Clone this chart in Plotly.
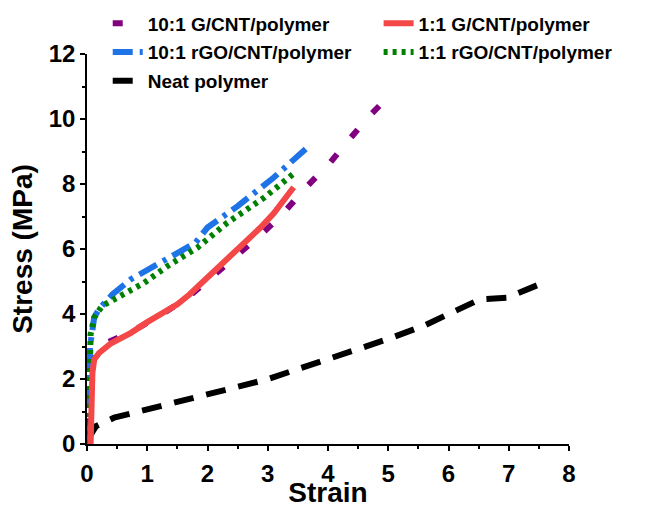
import plotly.graph_objects as go

# 10:1 G/CNT/polymer (listed from the high-strain end)
g10_x = [4.85, 4.67, 4.34, 4.01, 3.63, 3.21, 2.83, 2.44, 2.08, 1.67, 1.20, 0.73, 0.31, 0.10, 0.05, 0.03, 0.02]
g10_y = [10.40, 10.06, 9.34, 8.60, 7.89, 7.00, 6.35, 5.73, 5.12, 4.50, 3.94, 3.45, 3.10, 2.85, 2.5, 1.2, 0.0]
# 1:1 G/CNT/polymer
g1_x = [0.06, 0.07, 0.09, 0.12, 0.20, 0.40, 0.73, 1.00, 1.50, 1.70, 2.00, 2.44, 2.88, 3.10, 3.43]
g1_y = [0.0, 1.0, 2.2, 2.6, 2.80, 3.10, 3.42, 3.75, 4.30, 4.60, 5.12, 5.94, 6.66, 7.10, 7.90]
# 10:1 rGO/CNT/polymer
r10_x = [0.02, 0.03, 0.05, 0.09, 0.12, 0.20, 0.42, 0.73, 1.28, 1.80, 2.00, 2.50, 3.10, 3.63]
r10_y = [0.0, 1.5, 3.0, 3.5, 3.90, 4.15, 4.60, 5.07, 5.63, 6.19, 6.66, 7.32, 8.20, 9.08]
# 1:1 rGO/CNT/polymer
r1_x = [0.02, 0.03, 0.04, 0.06, 0.12, 0.25, 0.50, 0.95, 1.34, 1.83, 2.33, 2.94, 3.45]
r1_y = [0.0, 1.5, 2.8, 3.38, 3.89, 4.25, 4.50, 4.96, 5.48, 6.04, 6.81, 7.58, 8.35]
# Neat polymer
neat_x = [0.0, 0.15, 0.45, 1.50, 2.33, 2.99, 3.74, 4.37, 4.98, 5.58, 6.19, 6.52, 6.97, 7.57]
neat_y = [0.1, 0.55, 0.81, 1.27, 1.68, 1.99, 2.45, 2.86, 3.22, 3.63, 4.19, 4.45, 4.50, 4.96]

x_ticks = [0, 1, 2, 3, 4, 5, 6, 7, 8]
y_ticks = [0, 2, 4, 6, 8, 10, 12]

FONT = "Liberation Sans, Arial, sans-serif"

fig = go.Figure()

fig.add_trace(go.Scatter(x=neat_x, y=neat_y, mode="lines", name="Neat polymer",
                         line=dict(color="#000000", width=6, dash="20px,13px"),
                         legend="legend", legendgroup="neat", legendrank=3))
fig.add_trace(go.Scatter(x=g10_x, y=g10_y, mode="lines", name="10:1 G/CNT/polymer",
                         line=dict(color="#800080", width=6, dash="10px,22px"),
                         legend="legend", legendgroup="g10", legendrank=1))
fig.add_trace(go.Scatter(x=r10_x, y=r10_y, mode="lines", name="10:1 rGO/CNT/polymer",
                         line=dict(color="#1E74E6", width=6, dash="20px,7px,4px,7px"),
                         legend="legend", legendgroup="r10", legendrank=2))
fig.add_trace(go.Scatter(x=r1_x, y=r1_y, mode="lines", name="1:1 rGO/CNT/polymer",
                         line=dict(color="#008000", width=6, dash="4px,5px"),
                         legend="legend2", legendgroup="r1", legendrank=2))
fig.add_trace(go.Scatter(x=g1_x, y=g1_y, mode="lines", name="1:1 G/CNT/polymer",
                         line=dict(color="#F44848", width=6),
                         legend="legend2", legendgroup="g1", legendrank=1))

legend_common = dict(font=dict(family=FONT, size=19, color="black", weight="bold"),
                     bgcolor="rgba(0,0,0,0)", orientation="v", tracegroupgap=1,
                     yanchor="top", xanchor="left", itemwidth=30)

fig.update_layout(
    width=654, height=508,
    margin=dict(l=87, r=85, t=54, b=64, autoexpand=False),
    paper_bgcolor="white", plot_bgcolor="white",
    showlegend=True,
    legend=dict(x=0.043, y=1.127, **legend_common),
    legend2=dict(x=0.605, y=1.127, **legend_common),
    xaxis=dict(range=[0, 8], tickvals=x_ticks, ticks="outside", ticklen=5, tickwidth=1.5,
               tickcolor="black", showline=True, linecolor="black", linewidth=1.5,
               showgrid=False, zeroline=False, ticklabelstandoff=2, automargin=True,
               minor=dict(dtick=0.5, tick0=0, ticks="outside", ticklen=3, tickwidth=1.5, tickcolor="black"),
               tickfont=dict(family=FONT, size=24, color="black", weight="bold"),
               title=dict(text="Strain", standoff=2,
                          font=dict(family=FONT, size=28, color="black", weight="bold"))),
    yaxis=dict(range=[0, 12], tickvals=y_ticks, ticks="outside", ticklen=5, tickwidth=1.5,
               tickcolor="black", showline=True, linecolor="black", linewidth=1.5,
               showgrid=False, zeroline=False,
               minor=dict(dtick=1, tick0=0, ticks="outside", ticklen=3, tickwidth=1.5, tickcolor="black"),
               tickfont=dict(family=FONT, size=24, color="black", weight="bold"),
               title=dict(text="Stress (MPa)", standoff=8,
                          font=dict(family=FONT, size=28, color="black", weight="bold"))),
)

fig.write_html("out.html")
